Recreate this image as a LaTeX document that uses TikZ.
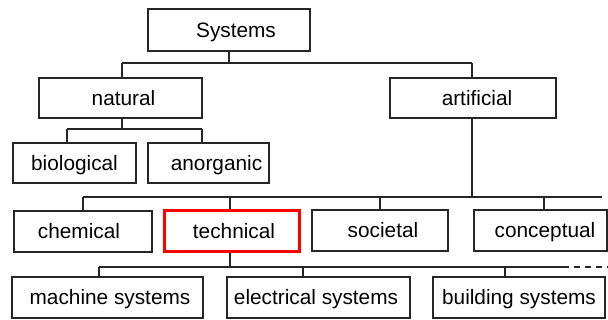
\documentclass[tikz,border=0pt]{standalone}
\usepackage{fontspec}
\setmainfont{Liberation Sans}
% shift a label right (positive) or left (negative) inside its box
\newcommand{\nudge}[2]{\ifdim#1pt>0pt\hspace*{#1pt}\hspace*{#1pt}#2\else#2\hspace*{-#1pt}\hspace*{-#1pt}\fi}
\begin{document}
\begin{tikzpicture}[x=1pt,y=-1pt,
  box/.style={draw=black!85,line width=1.8pt,inner sep=0pt,
    minimum height=41pt,text height=15pt,text depth=0pt,
    font=\fontsize{20.8}{24}\selectfont},
  hilite/.style={box,draw=red,line width=3pt},
  wire/.style={draw=black!85,line width=1.6pt}]
\useasboundingbox (0,0) rectangle (608,320);

% level 0
\node[box,minimum width=162pt,minimum height=42pt] (sys) at (229,30) {\nudge{7}{Systems}};
% level 1
\node[box,minimum width=163pt,minimum height=40pt] (nat) at (120.5,98) {\nudge{3}{natural}};
\node[box,minimum width=166pt,minimum height=40pt] (art) at (473,98) {\nudge{4}{artificial}};
% level 2
\node[box,minimum width=123pt,minimum height=40pt] (bio) at (74.5,163) {biological};
\node[box,minimum width=121pt,minimum height=40pt] (ano) at (208.5,163) {\nudge{8}{anorganic}};
% level 3
\node[box,minimum width=138pt] (che) at (83,231.5) {\nudge{-4}{chemical}};
\node[hilite,minimum width=135pt] (tec) at (231.5,231.5) {\nudge{2.5}{technical}};
\node[box,minimum width=136pt] (soc) at (380,230.5) {\nudge{3}{societal}};
\node[box,minimum width=133pt] (con) at (540.5,230.5) {\nudge{4.5}{conceptual}};
% level 4
\node[box,minimum width=191pt] (mac) at (107.5,297.5) {\nudge{2.5}{machine systems}};
\node[box,minimum width=183pt] (ele) at (318.5,297.5) {\nudge{-2.5}{electrical systems}};
\node[box,minimum width=172pt] (bui) at (519,297.5) {building systems};

% bus ends
\coordinate (b1l) at (122,63);  \coordinate (b1r) at (472,63);
\coordinate (b2l) at (67,129);  \coordinate (b2r) at (202,129);
\coordinate (b3l) at (83,197);  \coordinate (b3r) at (602,197);
\coordinate (b4l) at (99,267);  \coordinate (b4r) at (563,267);
\coordinate (b4e) at (608,267);

% Systems -> natural / artificial
\draw[wire] (sys.south) -- (sys.south |- b1l);
\draw[wire] (b1l) -- (b1r);
\draw[wire] (b1l) -- (b1l |- nat.north);
\draw[wire] (b1r) -- (b1r |- art.north);

% natural -> biological / anorganic
\draw[wire] (b1l |- nat.south) -- (b1l |- b2l);
\draw[wire] (b2l) -- (b2r);
\draw[wire] (b2l) -- (b2l |- bio.north);
\draw[wire] (b2r) -- (b2r |- ano.north);

% artificial -> chemical / technical / societal / conceptual
\draw[wire] (b1r |- art.south) -- (b1r |- b3l);
\draw[wire] (b3l) -- (b3r);
\draw[wire] (b3l) -- (b3l |- che.north);
\coordinate (t3) at (230,197);
\draw[wire] (t3) -- (t3 |- tec.north);
\coordinate (s3) at (380,197);
\draw[wire] (s3) -- (s3 |- soc.north);
\coordinate (c3) at (544,197);
\draw[wire] (c3) -- (c3 |- con.north);

% technical -> machine / electrical / building
\draw[wire] (t3 |- tec.south) -- (t3 |- b4l);
\draw[wire] (b4l) -- (b4r);
\draw[wire,dash pattern=on 6pt off 5pt] (b4r) -- (b4e);
\draw[wire] (b4l) -- (b4l |- mac.north);
\coordinate (e4) at (303,267);
\draw[wire] (e4) -- (e4 |- ele.north);
\coordinate (u4) at (505,267);
\draw[wire] (u4) -- (u4 |- bui.north);
\end{tikzpicture}
\end{document}
